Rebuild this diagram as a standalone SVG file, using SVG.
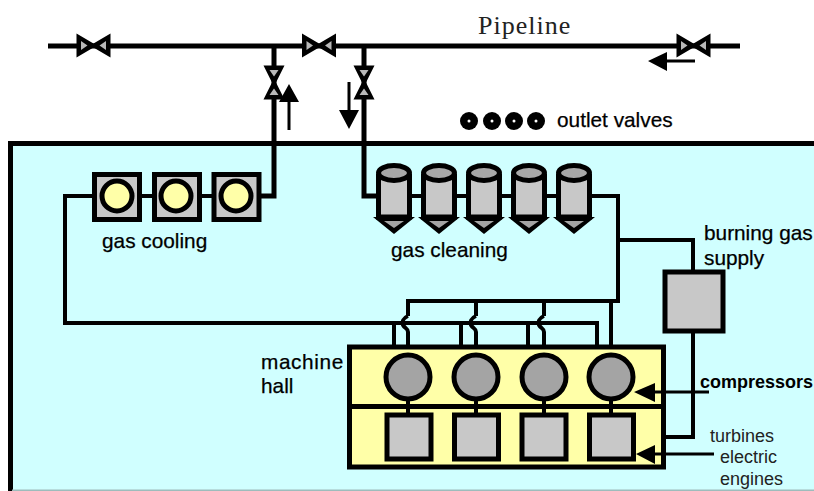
<svg xmlns="http://www.w3.org/2000/svg" width="814" height="491" viewBox="0 0 814 491">
<defs>
<style>
.p{fill:none;stroke:#000;stroke-width:5;stroke-linejoin:miter}
.t{fill:none;stroke:#000;stroke-width:4}
.a{fill:none;stroke:#000;stroke-width:3}
.box{fill:#c8c8c8;stroke:#000;stroke-width:5}
.y{fill:#ffffa8;stroke:#000;stroke-width:5}
.c{fill:#a4a4a4;stroke:#000;stroke-width:5}
text{font-family:"Liberation Sans",Arial,sans-serif;font-size:20.800px;fill:#000;stroke:#000;stroke-width:.25px}
.s{font-size:18px;fill:#222;stroke:none}
</style>
<g id="vh"><path d="M-17 -12L0 -2L17 -12V12L0 2L-17 12Z" fill="#000"/><path d="M-12.500 -4.500L-6 0L-12.500 4.500ZM12.500 -4.500L6 0L12.500 4.500Z" fill="#b8b8b8"/></g>
<g id="vv"><path d="M-10.500 -17H10.500L2 0L10.500 17H-10.500L-2 0Z" fill="#000"/><path d="M-4.500 -12.500L0 -6L4.500 -12.500ZM-4.500 12.500L0 6L4.500 12.500Z" fill="#b8b8b8"/></g>
<g id="cyl"><path d="M-15.500 -40V3H15.500V-40" fill="#c8c8c8" stroke="#000" stroke-width="5"/><ellipse cx="0" cy="-41" rx="15.500" ry="7.500" fill="#a8a8a8" stroke="#000" stroke-width="5"/><path d="M-21 3H21L0 20Z" fill="#000"/><path d="M-10 7H10L0 14Z" fill="#a4a4a4"/></g>
</defs>
<rect id="building" x="10.500" y="143.500" width="804" height="346.500" fill="#d0ffff"/>
<path d="M10.500 491V143.500H814" fill="none" stroke="#000" stroke-width="5"/>
<rect x="12" y="489.500" width="802" height="1.500" fill="#9dbcbc"/>
<g id="connectors">
<path class="p" d="M48 46H740M274 46V196H261M364 46V196H378"/>
<path class="t" d="M92 196H65V323H597V352M394 323V352M461 323V352M528 323V352M141 196H152M200 196H212"/>
<path class="t" d="M410 196H423M455 196H468M500 196H513M545 196H558M590 196H618V301H408V316M476 301V316M544 301V316M611 301V353M618 240H693V272M693 331V437H665"/>
<path class="t" d="M408 316C403 318 402 322 403 325C405 329 408 328 408 332V353M476 316C471 318 470 322 471 325C473 329 476 328 476 332V353M544 316C539 318 538 322 539 325C541 329 544 328 544 332V353"/>
</g>
<g id="valve-1"><use href="#vh" x="93.500" y="45.500"/></g>
<g id="valve-2"><use href="#vh" x="319" y="45.500"/></g>
<g id="valve-3"><use href="#vh" x="693.500" y="45.500"/></g>
<g id="valve-4"><use href="#vv" x="274" y="82.500"/></g>
<g id="valve-5"><use href="#vv" x="364" y="82.500"/></g>
<g id="pipeline-label"><text x="478" y="34" style="font-family:'Liberation Serif',serif;font-size:26px;letter-spacing:1px;fill:#222;stroke:none">Pipeline</text></g>
<g id="outlet-valves">
<circle cx="469" cy="121" r="9" fill="#000"/><circle cx="492" cy="121" r="9" fill="#000"/><circle cx="514" cy="121" r="9" fill="#000"/><circle cx="536" cy="121" r="9" fill="#000"/>
<circle cx="469" cy="121" r="1.500" fill="#fff"/><circle cx="492" cy="121" r="1.500" fill="#fff"/><circle cx="514" cy="121" r="1.500" fill="#fff"/><circle cx="536" cy="121" r="1.500" fill="#fff"/>
<text x="557" y="127">outlet valves</text></g>
<g id="gas-cooling">
<rect class="box" x="94.500" y="174.500" width="45" height="45"/><circle class="y" cx="117" cy="196" r="15"/>
<rect class="box" x="154.500" y="174.500" width="45" height="45"/><circle class="y" cx="176" cy="196" r="15"/>
<rect class="box" x="214" y="174.500" width="45" height="45"/><circle class="y" cx="236" cy="196" r="15"/>
<text x="102" y="248">gas cooling</text></g>
<g id="gas-cleaning">
<use href="#cyl" x="394" y="214"/><use href="#cyl" x="439" y="214"/><use href="#cyl" x="484" y="214"/><use href="#cyl" x="529" y="214"/><use href="#cyl" x="574" y="214"/>
<text x="391" y="257">gas cleaning</text></g>
<g id="burning-gas-supply"><rect class="box" x="665" y="272" width="58" height="59"/>
<text x="704" y="240">burning gas</text><text x="704" y="265">supply</text></g>
<g id="machine-hall">
<rect x="349.500" y="347" width="314" height="120" fill="#ffffa8" stroke="#000" stroke-width="5"/>
<path class="p" d="M349.500 406.500H663"/>
<path class="t" d="M408 395V415M476 395V415M544 395V415M611 395V415"/>
<circle class="c" cx="408" cy="377" r="22"/><circle class="c" cx="476" cy="377" r="22"/><circle class="c" cx="544" cy="377" r="22"/><circle class="c" cx="611" cy="377" r="22"/>
<rect class="box" x="387" y="415" width="44" height="44"/><rect class="box" x="454.500" y="415" width="44" height="44"/><rect class="box" x="522" y="415" width="44" height="44"/><rect class="box" x="589.500" y="415" width="44" height="44"/>
<text x="261" y="369" style="letter-spacing:.6px">machine</text><text x="261" y="393">hall</text>
</g>
<g id="flow-arrows">
<path class="a" d="M289 130V100M349 82V112M695 61H665M652 392H709M652 454H714"/>
<path d="M289 84L299 102H279ZM349 129L339 110H359ZM648 61L667 52V71ZM634 392L655 383V402ZM636 454L655 445V464Z" fill="#000"/>
</g>
<g id="labels">
<text x="700" y="388" style="font-weight:bold;font-size:18px;stroke:none">compressors</text>
<text x="710" y="442" class="s">turbines</text>
<text x="720" y="463" class="s">electric</text>
<text x="720" y="485" class="s">engines</text>
</g>
</svg>
